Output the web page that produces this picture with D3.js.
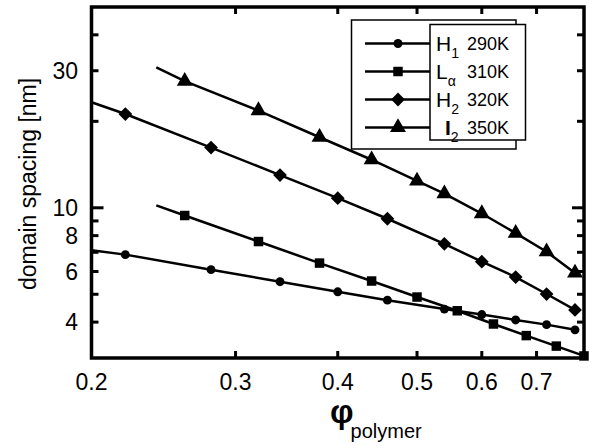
<!DOCTYPE html>
<meta charset="utf-8">
<style>
body { margin: 0; background: #fff; }
text { font-family: "Liberation Sans", Arial, sans-serif; fill: #000; }
.frame { fill: none; stroke: #000; stroke-width: 3.5px; }
.series { fill: none; stroke: #000; stroke-width: 2.5px; }
.tick { stroke: #000; stroke-width: 3px; }
</style>
<body>
<script src="https://d3js.org/d3.v7.min.js"></script>
<script>
// values
const h1Phi = [0.22, 0.28, 0.34, 0.40, 0.46, 0.54, 0.60, 0.66, 0.72, 0.78];
const h1D   = [6.87, 6.09, 5.53, 5.10, 4.77, 4.44, 4.25, 4.07, 3.92, 3.76];
const laPhi = [0.26, 0.32, 0.38, 0.44, 0.50, 0.56, 0.62, 0.68, 0.74, 0.80];
const laD   = [9.40, 7.63, 6.42, 5.56, 4.89, 4.38, 3.94, 3.59, 3.30, 3.05];
const h2Phi = [0.22, 0.28, 0.34, 0.40, 0.46, 0.54, 0.60, 0.66, 0.72, 0.78];
const h2D   = [21.2, 16.2, 13.0, 10.8, 9.16, 7.49, 6.49, 5.74, 5.01, 4.41];
const i2Phi = [0.26, 0.32, 0.38, 0.44, 0.50, 0.54, 0.60, 0.66, 0.72, 0.78];
const i2D   = [27.6, 21.8, 17.6, 14.7, 12.4, 11.2, 9.55, 8.16, 7.03, 5.93];
// where each drawn line starts (no marker there)
const startPhi = [0.20, 0.24, 0.20, 0.24];
const startD   = [7.11, 10.2, 23.3, 30.8];

const seriesNames = ["H", "L", "H", "I"];
const seriesSubs  = ["1", "α", "2", "2"];
const seriesTemps = ["290K", "310K", "320K", "350K"];

const xTicks = [0.2, 0.3, 0.4, 0.5, 0.6, 0.7, 0.8];
const xLabels = [0.2, 0.3, 0.4, 0.5, 0.6, 0.7];
const yTicks = [4, 5, 6, 7, 8, 9, 10, 20, 30, 40];
const yLabels = [4, 6, 8, 10, 30];

var width = 594, height = 448;
var pLeft = 91.5, pRight = 584, pTop = 7, pBottom = 358;

var x = d3.scaleLog().domain([0.2, 0.8]).range([pLeft, pRight]);
var y = d3.scaleLog().domain([3, 50]).range([pBottom, pTop]);

var svg = d3.select("body").append("svg")
    .attr("width", width)
    .attr("height", height);

var series = [
  {phi: h1Phi, d: h1D, shape: "circle"},
  {phi: laPhi, d: laD, shape: "square"},
  {phi: h2Phi, d: h2D, shape: "diamond"},
  {phi: i2Phi, d: i2D, shape: "triangle"}
];

function marker(shape) {
  if (shape == "circle") return d3.symbol(d3.symbolCircle, 62)();
  if (shape == "square") return d3.symbol(d3.symbolSquare, 90)();
  if (shape == "diamond") return d3.symbol(d3.symbolSquare, 95)();
  return d3.symbol(d3.symbolTriangle, 110)();
}
function rot(shape) { return shape == "diamond" ? " rotate(45)" : ""; }

var line = d3.line().x(d => x(d[0])).y(d => y(d[1]));

series.forEach(function(s, i) {
  var pts = [[startPhi[i], startD[i]]].concat(s.phi.map((p, j) => [p, s.d[j]]));
  svg.append("path").attr("class", "series").attr("d", line(pts));
  svg.selectAll(null)
      .data(s.phi.map((p, j) => [p, s.d[j]]))
    .enter().append("path")
      .attr("d", marker(s.shape))
      .attr("transform", d => "translate(" + x(d[0]) + "," + y(d[1]) + ")" + rot(s.shape));
});

// ticks, inward on all four sides
xTicks.slice(1, -1).forEach(function(t) {
  svg.append("line").attr("class", "tick")
      .attr("x1", x(t)).attr("x2", x(t)).attr("y1", pBottom).attr("y2", pBottom - 7);
  svg.append("line").attr("class", "tick")
      .attr("x1", x(t)).attr("x2", x(t)).attr("y1", pTop).attr("y2", pTop + 7);
});
yTicks.forEach(function(t) {
  var len = t == 10 ? 12 : 7;
  svg.append("line").attr("class", "tick")
      .attr("x1", pLeft).attr("x2", pLeft + len).attr("y1", y(t)).attr("y2", y(t));
  svg.append("line").attr("class", "tick")
      .attr("x1", pRight).attr("x2", pRight - len).attr("y1", y(t)).attr("y2", y(t));
});

svg.append("rect").attr("class", "frame")
    .attr("x", pLeft).attr("y", pTop)
    .attr("width", pRight - pLeft).attr("height", pBottom - pTop);

svg.selectAll(".xl").data(xLabels).enter().append("text")
    .attr("x", d => x(d)).attr("y", 390)
    .attr("text-anchor", "middle")
    .style("font-size", "23px")
    .text(d => d);

svg.selectAll(".yl").data(yLabels).enter().append("text")
    .attr("x", 78).attr("y", d => y(d) + 8)
    .attr("text-anchor", "end")
    .style("font-size", "23px")
    .text(d => d);

svg.append("text")
    .attr("transform", "translate(36," + 184 + ") rotate(-90)")
    .attr("text-anchor", "middle")
    .style("font-size", "23px")
    .text("domain spacing [nm]");

var xt = svg.append("text").attr("x", 330).attr("y", 423);
xt.append("tspan").style("font-size", "33px").style("font-weight", "bold").text("φ");
xt.append("tspan").attr("dx", -3).attr("dy", 15).style("font-size", "20px").text("polymer");

// legend
var lg = svg.append("g");
lg.append("rect")
    .attr("x", 351.5).attr("y", 20).attr("width", 164.5).attr("height", 129)
    .attr("fill", "#fff").attr("stroke", "#000").attr("stroke-width", 1.5);
lg.append("rect")
    .attr("x", 430).attr("y", 24.5).attr("width", 95.5).attr("height", 115.5)
    .attr("fill", "#fff").attr("stroke", "#000").attr("stroke-width", 1.5);

series.forEach(function(s, i) {
  var ry = 43.5 + i * 28;
  lg.append("line").attr("class", "series")
      .attr("x1", 365).attr("x2", 430).attr("y1", ry).attr("y2", ry);
  lg.append("path")
      .attr("d", marker(s.shape))
      .attr("transform", "translate(398," + ry + ")" + rot(s.shape));
  var t = lg.append("text").attr("x", seriesNames[i] == "I" ? 445 : 436).attr("y", ry + 7.5);
  t.append("tspan").style("font-size", "21px")
      .style("font-weight", seriesNames[i] == "I" ? "bold" : "normal").text(seriesNames[i]);
  t.append("tspan").attr("dy", 7).style("font-size", "14px").style("font-weight", "normal").text(seriesSubs[i]);
  lg.append("text").attr("x", 467).attr("y", ry + 6.5)
      .style("font-size", "18px")
      .text(seriesTemps[i]);
});
</script>
</body>
